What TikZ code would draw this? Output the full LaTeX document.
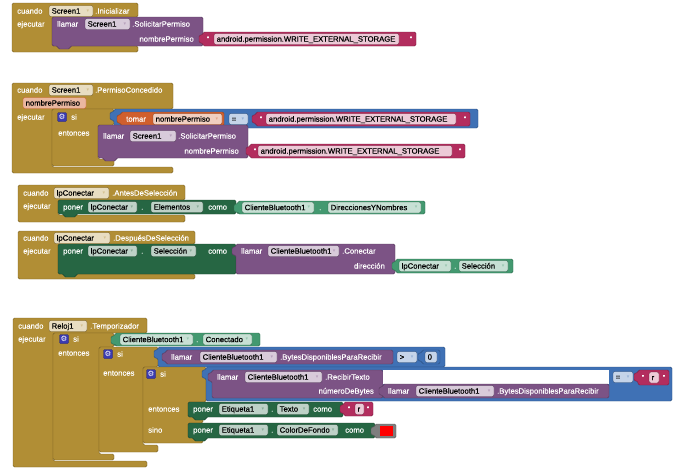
\documentclass[tikz,border=0pt]{standalone}
\usepackage{fontspec}
\setmainfont[FakeBold=0.5]{Liberation Sans}
\newfontfamily\symf{DejaVu Sans}
\definecolor{cGold}{HTML}{B18E35}
\definecolor{cPurp}{HTML}{7C5385}
\definecolor{cMag}{HTML}{B32D5E}
\definecolor{cBlue}{HTML}{3F71B5}
\definecolor{cOrng}{HTML}{D05F2D}
\definecolor{cSGreen}{HTML}{266643}
\definecolor{cGGreen}{HTML}{439970}
\definecolor{cGray}{HTML}{7E7E7E}
\definecolor{cGear}{HTML}{3B3BB0}
\newcommand\fs{\fontsize{7.7}{9}\selectfont}
\tikzset{
 lbl/.style={text=white, font=\fs, inner sep=0pt, anchor=mid west},
 lblr/.style={lbl, anchor=mid east},
 ftx/.style={text=black, font=\fs, inner sep=0pt, anchor=mid west},
 arw/.style={font=\symf\fontsize{5}{5}\selectfont, inner sep=0pt},
 qt/.style={text=white, font=\fontsize{7}{7}\selectfont, inner sep=0pt},
 blk/.style={line width=0.4pt, rounded corners=1.5pt},
}
\newcommand\lb[3]{\node[lbl] (#1) at (#2) {#3};}
\newcommand\lr[3]{\node[lblr] (#1) at (#2) {#3};}
\newcommand\fd[6]{%
 \draw[fill=#6!30!white, draw=#6!60!black, line width=.3pt, rounded corners=2pt] (#2,#4-5.5) rectangle (#3,#4+5.5);
 \node[ftx] (#1) at (#2+2.5,#4) {#5};
 \node[arw, text=#6!55!white] (#1a) at (#3-5,#4) {▾};}
\newcommand\tf[6]{%
 \draw[fill=#6!30!white, draw=#6!60!black, line width=.3pt, rounded corners=2pt] (#2,#4-5.5) rectangle (#3,#4+5.5);
 \node[ftx] (#1) at (#2+2.5,#4) {#5};}
\newcommand\vblk[5]{\draw[blk, fill=#5, draw=#5!70!black] (#1,#2) -- (#3,#2) -- (#3,#4) -- (#1,#4) -- (#1,#2+11) -- (#1-4,#2+11) -- (#1-4,#2+3) -- (#1,#2+3) -- cycle;}
\newcommand\sblk[5]{\draw[blk, fill=#5, draw=#5!70!black] (#1,#2) -- (#3,#2) -- (#3,#4) -- (#1+18,#4) -- (#1+18,#4+3) -- (#1+6,#4+3) -- (#1+6,#4) -- (#1,#4) -- cycle;}
\newcommand\strb[8]{%
 \vblk{#2}{#3}{#4}{#5}{cMag}
 \node[qt] (#1q1) at (#2+5,{(#3+#5)/2}) {"};
 \draw[fill=cMag!25!white, draw=cMag!60!black, line width=.3pt, rounded corners=2pt] (#6,{(#3+#5)/2-5.5}) rectangle (#7,{(#3+#5)/2+5.5});
 \node[ftx] (#1) at (#6+2.5,{(#3+#5)/2}) {#8};
 \node[qt] (#1q2) at (#4-5,{(#3+#5)/2}) {"};}
\newcommand\gear[2]{%
 \draw[fill=cGear, draw=cGear!60!black, rounded corners=1pt, line width=.3pt] (#2)+(-4.5,-4.5) rectangle +(4.5,4.5);
 \node[text=white, font=\symf\fontsize{7.5}{7.5}\selectfont, inner sep=0pt] (#1) at (#2) {⚙};}
\begin{document}
\begin{tikzpicture}[x=1pt,y=-1pt]
\useasboundingbox (0,0) rectangle (690,474);
\fill[white] (0,0) rectangle (690,474);
\tikzset{goldc/.style={blk, fill=cGold, draw=cGold!70!black}}
% ===== Block 1 =====
\draw[goldc] (12,3) -- (138,3) -- (138,17) -- (52,17) -- (52,46) -- (138,46) -- (138,52) -- (12,52) -- cycle;
\lb{a1}{17,11}{cuando}
\fd{a2}{49}{93}{11}{Screen1}{cGold}
\lb{a3}{95,11}{.Inicializar}
\lb{a4}{17,24}{ejecutar}
\sblk{52}{17}{203}{46}{cPurp}
\lb{a5}{57,24}{llamar}
\fd{a6}{85}{130}{24}{Screen1}{cPurp}
\lb{a7}{132,24}{.SolicitarPermiso}
\lr{a8}{194,39}{nombrePermiso}
\strb{a9}{203}{32}{416}{46}{214}{399}{android.permission.WRITE\_EXTERNAL\_STORAGE}
% ===== Block 2 =====
\draw[goldc] (12,83) -- (173,83) -- (173,109) -- (52,109) -- (52,167) -- (173,167) -- (173,173) -- (12,173) -- cycle;
\lb{b1}{17,90}{cuando}
\fd{b2}{49}{93}{90}{Screen1}{cGold}
\lb{b3}{95,90}{.PermisoConcedido}
\draw[fill=cOrng!45!white, draw=cOrng, line width=.4pt, rounded corners=2pt] (23,97.5) rectangle (86,108.5);
\node[ftx] (b4) at (25.5,103) {nombrePermiso};
\lb{b5}{17,117}{ejecutar}
\draw[goldc] (52,109) -- (114,109) -- (114,125) -- (98,125) -- (98,159) -- (114,159) -- (114,166) -- (52,166) -- cycle;
\gear{b6}{62,117}
\lb{b7}{71,117}{si}
\lb{b8}{58,133}{entonces}
\vblk{114}{109}{478}{128}{cBlue}
\vblk{121}{112}{224}{126}{cOrng}
\lb{b9}{126,119}{tomar}
\fd{b10}{153}{222}{119}{nombrePermiso}{cOrng}
\fd{b11}{229}{248}{119}{=}{cBlue}
\strb{b12}{256}{112}{470}{126}{266}{456}{android.permission.WRITE\_EXTERNAL\_STORAGE}
\sblk{98}{125}{248}{158}{cPurp}
\lb{b13}{103,136}{llamar}
\fd{b14}{130}{176}{136}{Screen1}{cPurp}
\lb{b15}{178,136}{.SolicitarPermiso}
\lr{b16}{239,151}{nombrePermiso}
\strb{b17}{250}{144}{465}{158}{258}{452}{android.permission.WRITE\_EXTERNAL\_STORAGE}
% ===== Block 3 =====
\draw[goldc] (18,185) -- (185,185) -- (185,200) -- (58,200) -- (58,215) -- (185,215) -- (185,222) -- (18,222) -- cycle;
\lb{c1}{23,193}{cuando}
\fd{c2}{54}{109}{193}{lpConectar}{cGold}
\lb{c3}{112,193}{.AntesDeSelección}
\lb{c4}{23,206}{ejecutar}
\sblk{58}{200}{236}{214}{cSGreen}
\lb{c5}{63,207}{poner}
\fd{c6}{88}{137}{207}{lpConectar}{cSGreen}
\lb{c7}{141,207}{.}
\fd{c8}{151}{203}{207}{Elementos}{cSGreen}
\lb{c9}{208,207}{como}
\vblk{238}{201}{425}{214}{cGGreen}
\fd{c10}{242}{314}{207.5}{ClienteBluetooth1}{cGGreen}
\lb{c11}{319,207.5}{.}
\fd{c12}{328}{421}{207.5}{DireccionesYNombres}{cGGreen}
% ===== Block 4 =====
\draw[goldc] (18,231) -- (195,231) -- (195,244) -- (58,244) -- (58,274) -- (195,274) -- (195,279) -- (18,279) -- cycle;
\lb{d1}{23,238}{cuando}
\fd{d2}{54}{110}{238}{lpConectar}{cGold}
\lb{d3}{113,238}{.DespuésDeSelección}
\lb{d4}{23,251}{ejecutar}
\sblk{58}{244}{236}{274}{cSGreen}
\lb{d5}{63,251}{poner}
\fd{d6}{88}{137}{251}{lpConectar}{cSGreen}
\lb{d7}{141,251}{.}
\fd{d8}{151}{196}{251}{Selección}{cSGreen}
\lb{d9}{208,251}{como}
\vblk{236}{244}{395}{274}{cPurp}
\lb{d10}{241,251}{llamar}
\fd{d11}{268}{339}{251}{ClienteBluetooth1}{cPurp}
\lb{d12}{342,251}{.Conectar}
\lr{d13}{385,266}{dirección}
\vblk{396}{259}{513}{273}{cGGreen}
\fd{d14}{399}{451}{266}{lpConectar}{cGGreen}
\lb{d15}{454,266}{.}
\fd{d16}{459}{508}{266}{Selección}{cGGreen}
% ===== Block 5 =====
\draw[goldc] (13,318) -- (147,318) -- (147,333) -- (53,333) -- (53,461) -- (147,461) -- (147,467) -- (13,467) -- cycle;
\lb{e1}{18,326}{cuando}
\fd{e2}{49}{87}{326}{Reloj1}{cGold}
\lb{e3}{90,326}{.Temporizador}
\lb{e4}{18,339}{ejecutar}
\draw[goldc] (53,333) -- (114,333) -- (114,347) -- (99,347) -- (99,454) -- (114,454) -- (114,460) -- (53,460) -- cycle;
\gear{e5}{64,339}
\lb{e6}{73,339}{si}
\lb{e7}{58,353}{entonces}
\vblk{115}{333}{260}{346}{cGGreen}
\fd{e8}{120}{193}{339.5}{ClienteBluetooth1}{cGGreen}
\lb{e9}{196,339.5}{.}
\fd{e10}{203}{252}{339.5}{Conectado}{cGGreen}
\draw[goldc] (99,347) -- (158,347) -- (158,367) -- (143,367) -- (143,445) -- (158,445) -- (158,452) -- (99,452) -- cycle;
\gear{e11}{108,354}
\lb{e12}{117,354}{si}
\lb{e13}{103,373}{entonces}
\vblk{158}{347}{445}{367}{cBlue}
\vblk{166}{350}{393}{364}{cPurp}
\lb{e14}{171,357}{llamar}
\fd{e15}{200}{277}{357}{ClienteBluetooth1}{cPurp}
\lb{e16}{280,357}{.BytesDisponiblesParaRecibir}
\fd{e17}{397}{417}{357}{>}{cBlue}
\vblk{422}{350}{440}{364}{cBlue}
\tf{e18}{425}{437}{357}{0}{cBlue}
\draw[goldc] (143,367) -- (206,367) -- (206,402) -- (188,402) -- (188,417) -- (203,417) -- (203,423) -- (188,423) -- (188,437) -- (203,437) -- (203,443) -- (143,443) -- cycle;
\gear{e19}{151,374}
\lb{e20}{160,374}{si}
\lb{e21}{148,409}{entonces}
\lb{e22}{148,430}{sino}
\vblk{206}{367}{672}{401}{cBlue}
\vblk{212}{370}{383}{398}{cPurp}
\fill[white] (383.2,370) rectangle (609,384);
\lb{e23}{217,377}{llamar}
\fd{e24}{245}{322}{377}{ClienteBluetooth1}{cPurp}
\lb{e25}{325,377}{.RecibirTexto}
\lr{e26}{374,391}{númeroDeBytes}
\vblk{383}{384}{609}{398}{cPurp}
\lb{e27}{388,391}{llamar}
\fd{e28}{416}{494}{391}{ClienteBluetooth1}{cPurp}
\lb{e29}{497,391}{.BytesDisponiblesParaRecibir}
\fd{e30}{613}{633}{377}{=}{cBlue}
\strb{e31}{638}{370}{669}{385}{649}{659}{r}
\sblk{188}{402}{343}{417}{cSGreen}
\lb{e32}{193,409}{poner}
\fd{e33}{219}{268}{409}{Etiqueta1}{cSGreen}
\lb{e34}{271,409}{.}
\fd{e35}{277}{309}{409}{Texto}{cSGreen}
\lb{e36}{313,409}{como}
\strb{e37}{344}{402}{373}{416}{355}{364}{r}
\sblk{188}{423}{375}{438}{cSGreen}
\lb{e38}{193,430}{poner}
\fd{e39}{219}{268}{430}{Etiqueta1}{cSGreen}
\lb{e40}{271,430}{.}
\fd{e41}{277}{338}{430}{ColorDeFondo}{cSGreen}
\lb{e42}{345,430}{como}
\vblk{375}{424}{396}{438}{cGray}
\fill[red] (380,426) rectangle (393,436);
\end{tikzpicture}
\end{document}
